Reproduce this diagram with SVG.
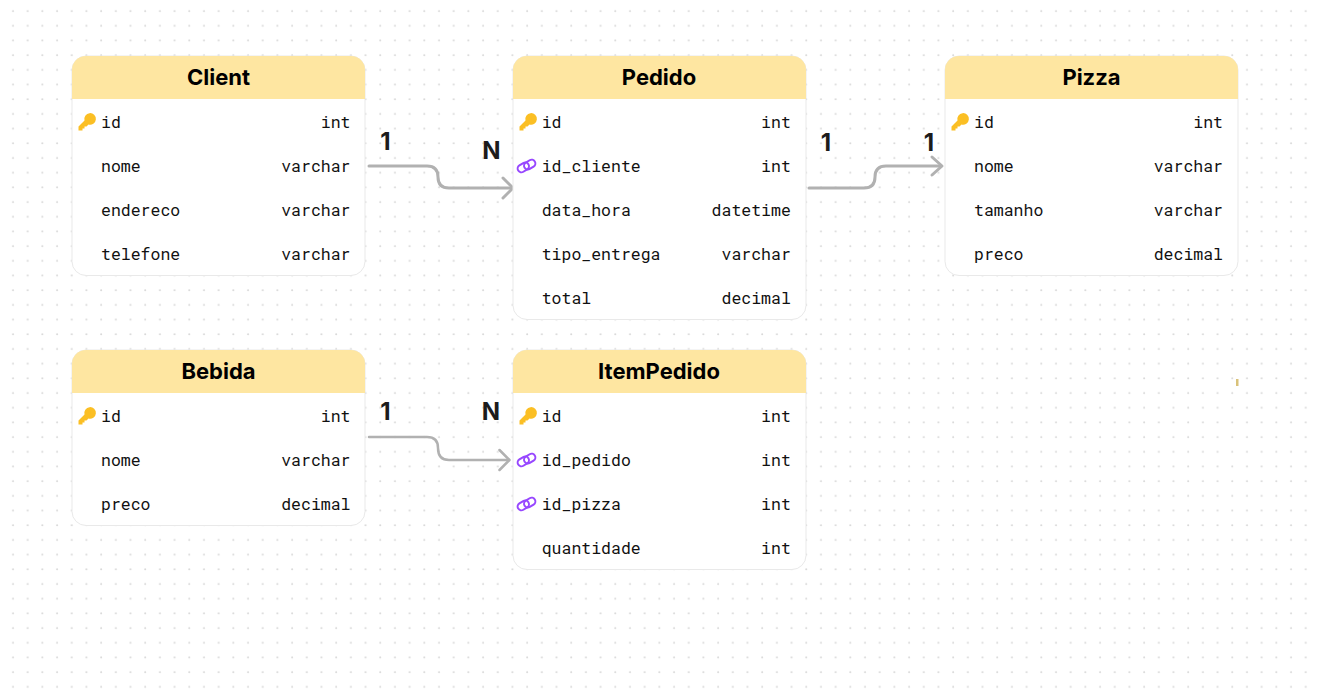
<svg xmlns="http://www.w3.org/2000/svg" width="1319" height="692" viewBox="0 0 1319 692">
<defs>
<style>
.box{fill:#fff;stroke:#e9e9e9;stroke-width:1}
.hd{fill:#fee6a1}
.t{font:700 22px Inter,"Liberation Sans",sans-serif;fill:#000;text-anchor:middle}
.f{font:16.5px "Roboto Mono","DejaVu Sans Mono",monospace;fill:#111}
.e{text-anchor:end}
.c{fill:none;stroke:#b1b1b1;stroke-width:3;stroke-linecap:round;stroke-linejoin:round}
.thin{stroke-width:2.500}
.l{font:700 24px Inter,"Liberation Sans",sans-serif;fill:#1c1c1c;text-anchor:middle}
</style>
<pattern id="dots" x="6" y="4" width="14.69" height="14.69" patternUnits="userSpaceOnUse"><circle cx="7" cy="7" r="1" fill="#d8d8d8"/></pattern>
<g id="key"><path d="M-7.500 8.500V4.500L-1.500-1.500A5.800 5.800 0 1 1 2.500 2.500L0.500 4.500H-1.500V6.500H-3.500V8.500Z" fill="#fbbf24"/><circle cx="3.600" cy="-3.600" r="1.400" fill="#fbbf24"/></g>
<g id="link" fill="none" stroke="#9747ff" stroke-width="2"><rect x="-6" y="-3.750" width="12" height="7.500" rx="3.750" transform="translate(-3.700 1.400) rotate(-32)"/><rect x="-6" y="-3.750" width="12" height="7.500" rx="3.750" transform="translate(2.700 -1.400) rotate(-32)"/></g>
</defs>
<rect width="1319" height="692" fill="#fff"/>
<rect width="1319" height="692" fill="url(#dots)"/>
<rect x="1236" y="379" width="2.500" height="7" fill="#d9c27a"/>
<g id="connectors">
<path class="c" d="M369 166H427Q438 166 438 177Q438 188 449 188H512"/><path class="c" d="M503 178L513 188L503 198"/>
<path class="c" d="M809 188H864Q875 188 875 177Q875 166 886 166H941"/><path class="c" d="M932 157L942 166L932 175"/>
<path class="c thin" d="M369 437H427Q438 437 438 448Q438 460 449 460H508"/><path class="c thin" d="M499.500 450L509.500 460L499.500 470"/>
</g>
<g id="labels">
<text class="l" x="385.500" y="150">1</text><text class="l" x="491.500" y="159">N</text>
<text class="l" x="826" y="151">1</text><text class="l" x="929" y="151">1</text>
<text class="l" x="385.500" y="420">1</text><text class="l" x="491" y="420">N</text>
</g>
<g id="client">
<rect class="box" x="72" y="56" width="293" height="219.500" rx="14"/>
<path class="hd" d="M72 99V70A14 14 0 0 1 86 56H351A14 14 0 0 1 365 70V99Z"/>
<text class="t" x="218.500" y="85">Client</text>
<use href="#key" x="86" y="122"/>
<text class="f" x="101" y="128">id</text><text class="f e" x="350.500" y="128">int</text>
<text class="f" x="101" y="172">nome</text><text class="f e" x="350.500" y="172">varchar</text>
<text class="f" x="101" y="216">endereco</text><text class="f e" x="350.500" y="216">varchar</text>
<text class="f" x="101" y="260">telefone</text><text class="f e" x="350.500" y="260">varchar</text>
</g>
<g id="pedido">
<rect class="box" x="513" y="56" width="293" height="263.500" rx="14"/>
<path class="hd" d="M513 99V70A14 14 0 0 1 527 56H792A14 14 0 0 1 806 70V99Z"/>
<text class="t" x="659" y="85">Pedido</text>
<use href="#key" x="527" y="122"/>
<use href="#link" x="527" y="166"/>
<text class="f" x="541.700" y="128">id</text><text class="f e" x="790.800" y="128">int</text>
<text class="f" x="541.700" y="172">id_cliente</text><text class="f e" x="790.800" y="172">int</text>
<text class="f" x="541.700" y="216">data_hora</text><text class="f e" x="790.800" y="216">datetime</text>
<text class="f" x="541.700" y="260">tipo_entrega</text><text class="f e" x="790.800" y="260">varchar</text>
<text class="f" x="541.700" y="304">total</text><text class="f e" x="790.800" y="304">decimal</text>
</g>
<g id="pizza">
<rect class="box" x="945" y="56" width="293" height="219.500" rx="14"/>
<path class="hd" d="M945 99V70A14 14 0 0 1 959 56H1224A14 14 0 0 1 1238 70V99Z"/>
<text class="t" x="1091.500" y="85">Pizza</text>
<use href="#key" x="959" y="122"/>
<text class="f" x="974" y="128">id</text><text class="f e" x="1223" y="128">int</text>
<text class="f" x="974" y="172">nome</text><text class="f e" x="1223" y="172">varchar</text>
<text class="f" x="974" y="216">tamanho</text><text class="f e" x="1223" y="216">varchar</text>
<text class="f" x="974" y="260">preco</text><text class="f e" x="1223" y="260">decimal</text>
</g>
<g id="bebida">
<rect class="box" x="72" y="350" width="293" height="175.500" rx="14"/>
<path class="hd" d="M72 393V364A14 14 0 0 1 86 350H351A14 14 0 0 1 365 364V393Z"/>
<text class="t" x="218.500" y="379">Bebida</text>
<use href="#key" x="86" y="416"/>
<text class="f" x="101" y="422">id</text><text class="f e" x="350.500" y="422">int</text>
<text class="f" x="101" y="466">nome</text><text class="f e" x="350.500" y="466">varchar</text>
<text class="f" x="101" y="510">preco</text><text class="f e" x="350.500" y="510">decimal</text>
</g>
<g id="itempedido">
<rect class="box" x="513" y="350" width="293" height="219.500" rx="14"/>
<path class="hd" d="M513 393V364A14 14 0 0 1 527 350H792A14 14 0 0 1 806 364V393Z"/>
<text class="t" x="659" y="379">ItemPedido</text>
<use href="#key" x="527" y="416"/>
<use href="#link" x="527" y="460"/>
<use href="#link" x="527" y="504"/>
<text class="f" x="541.700" y="422">id</text><text class="f e" x="790.800" y="422">int</text>
<text class="f" x="541.700" y="466">id_pedido</text><text class="f e" x="790.800" y="466">int</text>
<text class="f" x="541.700" y="510">id_pizza</text><text class="f e" x="790.800" y="510">int</text>
<text class="f" x="541.700" y="554">quantidade</text><text class="f e" x="790.800" y="554">int</text>
</g>
</svg>
